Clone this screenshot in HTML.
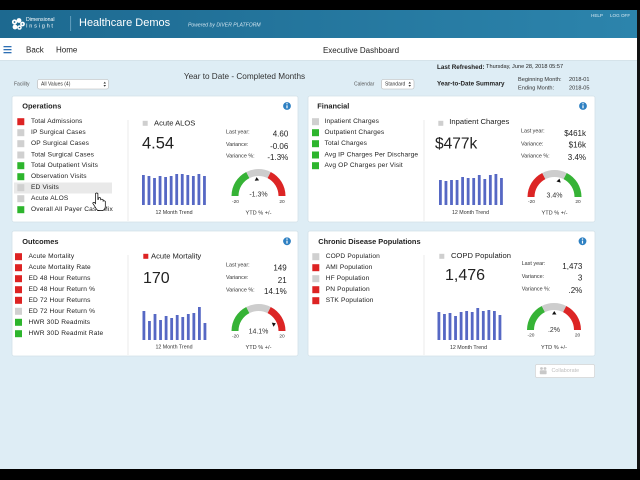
<!DOCTYPE html>
<html><head><meta charset="utf-8">
<style>
html,body{margin:0;padding:0;background:#000;}
svg{display:block;}
text{font-family:"Liberation Sans",Arial,sans-serif;}
</style></head>
<body>
<svg width="640" height="480" viewBox="0 0 640 480" xmlns="http://www.w3.org/2000/svg">
<defs>
<linearGradient id="hdr" x1="0" y1="0" x2="1" y2="0">
<stop offset="0" stop-color="#1d6990"/><stop offset="1" stop-color="#2c84ac"/>
</linearGradient>
</defs>
<!-- background -->
<rect x="0" y="0" width="640" height="480" fill="#000"/>
<rect x="0" y="10" width="637" height="459" fill="#deedf5"/>
<rect x="0" y="10" width="637" height="28" fill="url(#hdr)"/>
<rect x="0" y="38" width="637" height="22" fill="#ffffff"/>
<line x1="0" y1="60.5" x2="637" y2="60.5" stroke="#d5e3ea" stroke-width="1"/>

<!-- header -->
<g fill="#ffffff">
<circle cx="14.5" cy="22" r="2.6"/><circle cx="19" cy="20.5" r="2.4"/><circle cx="22.5" cy="24" r="2.4"/>
<circle cx="15" cy="27" r="2.4"/><circle cx="19.5" cy="27.5" r="2.3"/>
</g>
<g fill="#1d6990"><circle cx="14.5" cy="22" r="0.9"/><circle cx="19.5" cy="27.5" r="0.8"/><circle cx="22.5" cy="24" r="0.8"/></g>
<text x="26" y="20" font-size="5.2" fill="#fff" dominant-baseline="central">Dimensional</text>
<text x="26" y="26.3" font-size="5.6" fill="#fff" letter-spacing="1.75" dominant-baseline="central">Insight</text>
<line x1="70.7" y1="16" x2="70.7" y2="31" stroke="#7fb4cf" stroke-width="0.7"/>
<text x="79" y="23.2" font-size="11" fill="#fff" dominant-baseline="central">Healthcare Demos</text>
<text x="188" y="25.5" font-size="5.1" fill="#cfe3ee" font-style="italic" dominant-baseline="central">Powered by DIVER PLATFORM</text>
<text x="591" y="15.5" font-size="4.6" fill="#d6e8f2" dominant-baseline="central">HELP</text>
<text x="610" y="15.5" font-size="4.6" fill="#d6e8f2" dominant-baseline="central">LOG OFF</text>

<!-- nav -->
<g fill="#2e6fb4">
<rect x="3.5" y="46" width="8" height="1.3"/><rect x="3.5" y="49" width="8" height="1.3"/><rect x="3.5" y="52" width="8" height="1.3"/>
</g>
<text x="26" y="50" font-size="8" fill="#222" dominant-baseline="central">Back</text>
<text x="56" y="50" font-size="8" fill="#222" dominant-baseline="central">Home</text>
<text x="361" y="50.5" font-size="8" fill="#222" text-anchor="middle" dominant-baseline="central">Executive Dashboard</text>

<!-- filter row -->
<text x="244.5" y="76.5" font-size="8.2" fill="#333" text-anchor="middle" dominant-baseline="central">Year to Date - Completed Months</text>
<text x="14" y="84.7" font-size="5" fill="#555" dominant-baseline="central">Facility</text>
<rect x="37.5" y="79.5" width="71" height="9.5" rx="2" fill="#fff" stroke="#b5b5b5" stroke-width="0.6"/>
<text x="41" y="84.3" font-size="5" fill="#333" dominant-baseline="central">All Values (4)</text>
<polygon points="103.5,83.5 106,83.5 104.75,81.7" fill="#333"/><polygon points="103.5,85 106,85 104.75,86.8" fill="#333"/>
<text x="354" y="84.7" font-size="5" fill="#555" dominant-baseline="central">Calendar</text>
<rect x="381.5" y="79.5" width="32.5" height="9.5" rx="2" fill="#fff" stroke="#b5b5b5" stroke-width="0.6"/>
<text x="385" y="84.3" font-size="5" fill="#333" dominant-baseline="central">Standard</text>
<polygon points="408.5,83.5 411,83.5 409.75,81.7" fill="#333"/><polygon points="408.5,85 411,85 409.75,86.8" fill="#333"/>
<text x="437" y="66.8" font-size="6.3" fill="#222" dominant-baseline="central"><tspan font-weight="bold">Last Refreshed:</tspan><tspan font-size="5.6"> Thursday, June 28, 2018 05:57</tspan></text>
<text x="437" y="84.2" font-size="6.3" fill="#222" font-weight="bold" dominant-baseline="central">Year-to-Date Summary</text>
<text x="518" y="79.8" font-size="5.6" fill="#333" dominant-baseline="central">Beginning Month:</text>
<text x="569" y="79.8" font-size="5.6" fill="#333" dominant-baseline="central">2018-01</text>
<text x="518" y="88.6" font-size="5.6" fill="#333" dominant-baseline="central">Ending Month:</text>
<text x="569" y="88.6" font-size="5.6" fill="#333" dominant-baseline="central">2018-05</text>

<!-- panels -->
<g fill="#ffffff" stroke="#d3e1e9" stroke-width="0.8">
<rect x="12" y="96" width="286" height="126" rx="2"/>
<rect x="308" y="96" width="287" height="126" rx="2"/>
<rect x="12" y="231" width="286" height="125" rx="2"/>
<rect x="308" y="231" width="287" height="125" rx="2"/>
</g>
<g stroke="#e6e6e6" stroke-width="0.8">
<line x1="128" y1="120" x2="128" y2="221"/>
<line x1="424" y1="120" x2="424" y2="221"/>
<line x1="128" y1="255" x2="128" y2="355"/>
<line x1="424" y1="255" x2="424" y2="355"/>
</g>

<!-- titles -->
<g font-size="7.4" font-weight="bold" fill="#222">
<text x="22.3" y="106" dominant-baseline="central">Operations</text>
<text x="317.3" y="106" dominant-baseline="central">Financial</text>
<text x="22.3" y="241.3" dominant-baseline="central">Outcomes</text>
<text x="318.3" y="241.3" dominant-baseline="central">Chronic Disease Populations</text>
</g>
<!-- info icons -->
<g>
<circle cx="287" cy="106" r="3.9" fill="#2e80c2"/><circle cx="583" cy="106" r="3.9" fill="#2e80c2"/>
<circle cx="287" cy="241.3" r="3.9" fill="#2e80c2"/><circle cx="582.5" cy="241.3" r="3.9" fill="#2e80c2"/>
<g fill="#fff">
<rect x="286.4" y="105.3" width="1.2" height="3"/><circle cx="287" cy="103.8" r="0.7"/>
<rect x="582.4" y="105.3" width="1.2" height="3"/><circle cx="583" cy="103.8" r="0.7"/>
<rect x="286.4" y="240.6" width="1.2" height="3"/><circle cx="287" cy="239.1" r="0.7"/>
<rect x="581.9" y="240.6" width="1.2" height="3"/><circle cx="582.5" cy="239.1" r="0.7"/>
</g>
</g>

<!-- Operations list -->
<rect x="14" y="182.5" width="98" height="11" fill="#e9e9e9"/>
<g font-size="6.6" fill="#222" letter-spacing="0.15">
<rect x="17.3" y="118.2" width="7" height="7" fill="#dd2323"/><text x="31" y="121.7" dominant-baseline="central">Total Admissions</text>
<rect x="17.3" y="129.2" width="7" height="7" fill="#d0d0d0"/><text x="31" y="132.7" dominant-baseline="central">IP Surgical Cases</text>
<rect x="17.3" y="140.2" width="7" height="7" fill="#d0d0d0"/><text x="31" y="143.7" dominant-baseline="central">OP Surgical Cases</text>
<rect x="17.3" y="151.5" width="7" height="7" fill="#d0d0d0"/><text x="31" y="155" dominant-baseline="central">Total Surgical Cases</text>
<rect x="17.3" y="162.2" width="7" height="7" fill="#2db52d"/><text x="31" y="165.7" dominant-baseline="central">Total Outpatient Visits</text>
<rect x="17.3" y="173.2" width="7" height="7" fill="#2db52d"/><text x="31" y="176.7" dominant-baseline="central">Observation Visits</text>
<rect x="17.3" y="184.2" width="7" height="7" fill="#d0d0d0"/><text x="31" y="187.7" dominant-baseline="central">ED Visits</text>
<rect x="17.3" y="195.2" width="7" height="7" fill="#d0d0d0"/><text x="31" y="198.7" dominant-baseline="central">Acute ALOS</text>
<rect x="17.3" y="206.2" width="7" height="7" fill="#2db52d"/><text x="31" y="209.7" dominant-baseline="central">Overall All Payer Case Mix</text>
</g>
<!-- hand cursor -->
<path d="M95.5,193.5 q1.2,-1 2.4,0 v6 h0.4 v-1.4 q1.2,-1 2.4,0 v1.6 q1.2,-1 2.4,0 v1.4 q1.2,-0.8 2.2,0.3 v5 q0,3 -2.5,4 h-5 q-1.5,-1 -3,-4 l-2,-3 q0,-1.5 1.8,-0.8 l0.9,1 z" fill="#fff" stroke="#000" stroke-width="0.7"/>

<!-- Financial list -->
<g font-size="6.6" fill="#222" letter-spacing="0.15">
<rect x="312" y="118.2" width="7" height="7" fill="#d0d0d0"/><text x="324.5" y="121.7" dominant-baseline="central">Inpatient Charges</text>
<rect x="312" y="129.2" width="7" height="7" fill="#2db52d"/><text x="324.5" y="132.7" dominant-baseline="central">Outpatient Charges</text>
<rect x="312" y="140.2" width="7" height="7" fill="#2db52d"/><text x="324.5" y="143.7" dominant-baseline="central">Total Charges</text>
<rect x="312" y="151.5" width="7" height="7" fill="#2db52d"/><text x="324.5" y="155" dominant-baseline="central">Avg IP Charges Per Discharge</text>
<rect x="312" y="162.2" width="7" height="7" fill="#2db52d"/><text x="324.5" y="165.7" dominant-baseline="central">Avg OP Charges per Visit</text>
</g>

<!-- Outcomes list -->
<g font-size="6.6" fill="#222" letter-spacing="0.15">
<rect x="15" y="253.2" width="7" height="7" fill="#dd2323"/><text x="28.5" y="256.7" dominant-baseline="central">Acute Mortality</text>
<rect x="15" y="264.2" width="7" height="7" fill="#dd2323"/><text x="28.5" y="267.7" dominant-baseline="central">Acute Mortality Rate</text>
<rect x="15" y="275.2" width="7" height="7" fill="#dd2323"/><text x="28.5" y="278.7" dominant-baseline="central">ED 48 Hour Returns</text>
<rect x="15" y="286.2" width="7" height="7" fill="#dd2323"/><text x="28.5" y="289.7" dominant-baseline="central">ED 48 Hour Return %</text>
<rect x="15" y="296.8" width="7" height="7" fill="#dd2323"/><text x="28.5" y="300.3" dominant-baseline="central">ED 72 Hour Returns</text>
<rect x="15" y="307.8" width="7" height="7" fill="#d0d0d0"/><text x="28.5" y="311.3" dominant-baseline="central">ED 72 Hour Return %</text>
<rect x="15" y="318.8" width="7" height="7" fill="#2db52d"/><text x="28.5" y="322.3" dominant-baseline="central">HWR 30D Readmits</text>
<rect x="15" y="330.2" width="7" height="7" fill="#2db52d"/><text x="28.5" y="333.7" dominant-baseline="central">HWR 30D Readmit Rate</text>
</g>

<!-- Chronic list -->
<g font-size="6.6" fill="#222" letter-spacing="0.15">
<rect x="312.3" y="253.2" width="7" height="7" fill="#d0d0d0"/><text x="325.7" y="256.7" dominant-baseline="central">COPD Population</text>
<rect x="312.3" y="264.2" width="7" height="7" fill="#dd2323"/><text x="325.7" y="267.7" dominant-baseline="central">AMI Population</text>
<rect x="312.3" y="275.2" width="7" height="7" fill="#d0d0d0"/><text x="325.7" y="278.7" dominant-baseline="central">HF Population</text>
<rect x="312.3" y="286.2" width="7" height="7" fill="#dd2323"/><text x="325.7" y="289.7" dominant-baseline="central">PN Population</text>
<rect x="312.3" y="297.2" width="7" height="7" fill="#dd2323"/><text x="325.7" y="300.7" dominant-baseline="central">STK Population</text>
</g>

<!-- Mid headings & big numbers -->
<g fill="#222">
<rect x="142.7" y="120.8" width="5" height="5" fill="#cfcfcf"/>
<text x="154" y="123" font-size="7.6" dominant-baseline="central">Acute ALOS</text>
<text x="142" y="143.5" font-size="16.5" dominant-baseline="central">4.54</text>

<rect x="438.3" y="120.8" width="5" height="5" fill="#cfcfcf"/>
<text x="449.3" y="121.3" font-size="7.6" dominant-baseline="central">Inpatient Charges</text>
<text x="435" y="144" font-size="15.5" dominant-baseline="central">$477k</text>

<rect x="143.3" y="253.8" width="5" height="5" fill="#dd2323"/>
<text x="151" y="256.2" font-size="7.6" dominant-baseline="central">Acute Mortality</text>
<text x="143" y="278.7" font-size="16" dominant-baseline="central">170</text>

<rect x="439.3" y="253.8" width="5" height="5" fill="#cfcfcf"/>
<text x="451" y="255.5" font-size="7.6" dominant-baseline="central">COPD Population</text>
<text x="445" y="275.5" font-size="16" dominant-baseline="central">1,476</text>
</g>

<!-- stats -->
<g fill="#333" font-size="5.4">
<text x="226" y="132.3" dominant-baseline="central">Last year:</text>
<text x="226" y="145" dominant-baseline="central">Variance:</text>
<text x="226" y="156.7" dominant-baseline="central">Variance %:</text>
<text x="521" y="131.7" dominant-baseline="central">Last year:</text>
<text x="521" y="144.3" dominant-baseline="central">Variance:</text>
<text x="521" y="156.7" dominant-baseline="central">Variance %:</text>
<text x="226" y="265.7" dominant-baseline="central">Last year:</text>
<text x="226" y="278" dominant-baseline="central">Variance:</text>
<text x="226" y="290.3" dominant-baseline="central">Variance %:</text>
<text x="521.7" y="264" dominant-baseline="central">Last year:</text>
<text x="521.7" y="277" dominant-baseline="central">Variance:</text>
<text x="521.7" y="289.7" dominant-baseline="central">Variance %:</text>
</g>
<g fill="#222" font-size="8" text-anchor="end">
<text x="288.3" y="134" dominant-baseline="central">4.60</text>
<text x="288.3" y="146.7" dominant-baseline="central">-0.06</text>
<text x="288.3" y="157.7" dominant-baseline="central">-1.3%</text>
<text x="586" y="133.3" dominant-baseline="central">$461k</text>
<text x="586" y="145" dominant-baseline="central">$16k</text>
<text x="586" y="157.7" dominant-baseline="central">3.4%</text>
<text x="286.7" y="268" dominant-baseline="central">149</text>
<text x="286.7" y="280.3" dominant-baseline="central">21</text>
<text x="286.7" y="291.3" dominant-baseline="central">14.1%</text>
<text x="582.3" y="266.3" dominant-baseline="central">1,473</text>
<text x="582.3" y="278" dominant-baseline="central">3</text>
<text x="582.3" y="290.3" dominant-baseline="central">.2%</text>
</g>

<!-- bars -->
<g fill="#5668c4">
<!-- ops bottom 205 -->
<rect x="142" y="175" width="2.8" height="30"/><rect x="147.55" y="176" width="2.8" height="29"/><rect x="153.1" y="178" width="2.8" height="27"/><rect x="158.65" y="176" width="2.8" height="29"/><rect x="164.2" y="177" width="2.8" height="28"/><rect x="169.75" y="176" width="2.8" height="29"/><rect x="175.3" y="174" width="2.8" height="31"/><rect x="180.85" y="174" width="2.8" height="31"/><rect x="186.4" y="175" width="2.8" height="30"/><rect x="191.95" y="176" width="2.8" height="29"/><rect x="197.5" y="174" width="2.8" height="31"/><rect x="203.05" y="176" width="2.8" height="29"/>
<!-- fin -->
<rect x="439" y="180" width="2.8" height="25"/><rect x="444.55" y="181" width="2.8" height="24"/><rect x="450.1" y="180" width="2.8" height="25"/><rect x="455.65" y="180" width="2.8" height="25"/><rect x="461.2" y="177" width="2.8" height="28"/><rect x="466.75" y="178" width="2.8" height="27"/><rect x="472.3" y="178" width="2.8" height="27"/><rect x="477.85" y="175" width="2.8" height="30"/><rect x="483.4" y="179" width="2.8" height="26"/><rect x="488.95" y="175" width="2.8" height="30"/><rect x="494.5" y="174" width="2.8" height="31"/><rect x="500.05" y="178" width="2.8" height="27"/>
<!-- outcomes bottom 340 -->
<rect x="142.5" y="311" width="2.8" height="29"/><rect x="148.05" y="321" width="2.8" height="19"/><rect x="153.6" y="314" width="2.8" height="26"/><rect x="159.15" y="320" width="2.8" height="20"/><rect x="164.7" y="316" width="2.8" height="24"/><rect x="170.25" y="318" width="2.8" height="22"/><rect x="175.8" y="315" width="2.8" height="25"/><rect x="181.35" y="317" width="2.8" height="23"/><rect x="186.9" y="314" width="2.8" height="26"/><rect x="192.45" y="313" width="2.8" height="27"/><rect x="198" y="307" width="2.8" height="33"/><rect x="203.55" y="323" width="2.8" height="17"/>
<!-- chronic -->
<rect x="437.5" y="312" width="2.8" height="28"/><rect x="443.05" y="314" width="2.8" height="26"/><rect x="448.6" y="313" width="2.8" height="27"/><rect x="454.15" y="316" width="2.8" height="24"/><rect x="459.7" y="312" width="2.8" height="28"/><rect x="465.25" y="311" width="2.8" height="29"/><rect x="470.8" y="312" width="2.8" height="28"/><rect x="476.35" y="308" width="2.8" height="32"/><rect x="481.9" y="311" width="2.8" height="29"/><rect x="487.45" y="310" width="2.8" height="30"/><rect x="493" y="311" width="2.8" height="29"/><rect x="498.55" y="315" width="2.8" height="25"/>
</g>
<g fill="#333" font-size="5.3" text-anchor="middle">
<text x="174" y="213" dominant-baseline="central">12 Month Trend</text>
<text x="470.5" y="213" dominant-baseline="central">12 Month Trend</text>
<text x="174" y="347.3" dominant-baseline="central">12 Month Trend</text>
<text x="468.5" y="348" dominant-baseline="central">12 Month Trend</text>
</g>

<!-- gauges -->
<g fill="none" stroke-width="7">
<!-- ops -->
<path d="M235,196 A23.5,23.5 0 0 1 247.83,175.06" stroke="#36b336"/>
<path d="M247.83,175.06 A23.5,23.5 0 0 1 269.17,175.06" stroke="#cdcdcd"/>
<path d="M269.17,175.06 A23.5,23.5 0 0 1 282,196" stroke="#dc2525"/>
<!-- fin -->
<path d="M531,197 A23.5,23.5 0 0 1 543.83,176.06" stroke="#dc2525"/>
<path d="M543.83,176.06 A23.5,23.5 0 0 1 565.17,176.06" stroke="#cdcdcd"/>
<path d="M565.17,176.06 A23.5,23.5 0 0 1 578,197" stroke="#36b336"/>
<!-- outcomes -->
<path d="M235,331 A23.5,23.5 0 0 1 247.83,310.06" stroke="#36b336"/>
<path d="M247.83,310.06 A23.5,23.5 0 0 1 269.17,310.06" stroke="#cdcdcd"/>
<path d="M269.17,310.06 A23.5,23.5 0 0 1 282,331" stroke="#dc2525"/>
<!-- chronic -->
<path d="M530.5,330 A23.5,23.5 0 0 1 543.33,309.06" stroke="#36b336"/>
<path d="M543.33,309.06 A23.5,23.5 0 0 1 564.67,309.06" stroke="#cdcdcd"/>
<path d="M564.67,309.06 A23.5,23.5 0 0 1 577.5,330" stroke="#dc2525"/>
</g>
<g fill="#111">
<polygon points="256.3,180.5 260.7,180.5 258.5,177" transform="rotate(-5.85 258.5 196)"/>
<polygon points="552.3,181.5 556.7,181.5 554.5,178" transform="rotate(15.3 554.5 197)"/>
<polygon points="256.3,315.5 260.7,315.5 258.5,312" transform="rotate(66 258.5 331)"/>
<polygon points="551.8,314.5 556.2,314.5 554,311" transform="rotate(0.9 554 330)"/>
</g>
<g fill="#333" text-anchor="middle">
<text x="258.5" y="195" font-size="7" dominant-baseline="central">-1.3%</text>
<text x="235.5" y="202.3" font-size="4.8" dominant-baseline="central">-20</text>
<text x="282" y="202.3" font-size="4.8" dominant-baseline="central">20</text>
<text x="258.5" y="213.3" font-size="5.6" dominant-baseline="central">YTD % +/-</text>

<text x="554.5" y="196" font-size="7" dominant-baseline="central">3.4%</text>
<text x="531.5" y="202.5" font-size="4.8" dominant-baseline="central">-20</text>
<text x="578" y="202.5" font-size="4.8" dominant-baseline="central">20</text>
<text x="554.5" y="213.3" font-size="5.6" dominant-baseline="central">YTD % +/-</text>

<text x="258.5" y="332" font-size="7" dominant-baseline="central">14.1%</text>
<text x="235.5" y="337" font-size="4.8" dominant-baseline="central">-20</text>
<text x="282" y="337" font-size="4.8" dominant-baseline="central">20</text>
<text x="258.5" y="348" font-size="5.6" dominant-baseline="central">YTD % +/-</text>

<text x="554" y="330.5" font-size="7" dominant-baseline="central">.2%</text>
<text x="531" y="336" font-size="4.8" dominant-baseline="central">-20</text>
<text x="577.5" y="336" font-size="4.8" dominant-baseline="central">20</text>
<text x="554" y="348" font-size="5.6" dominant-baseline="central">YTD % +/-</text>
</g>

<!-- collaborate button -->
<rect x="535.5" y="364.5" width="59" height="13" rx="1.5" fill="#ffffff" stroke="#d4d4d4" stroke-width="0.7"/>
<g fill="#c8c8c8">
<circle cx="541.5" cy="368.5" r="1.4"/><circle cx="545" cy="368.5" r="1.4"/>
<rect x="539.8" y="370.3" width="6.8" height="4" rx="0.8"/>
</g>
<text x="551.5" y="371.2" font-size="5.4" fill="#bdbdbd" dominant-baseline="central">Collaborate</text>

<!-- right edge dark strip -->
<rect x="637" y="10" width="3" height="460" fill="#111"/>
<rect x="0" y="469" width="640" height="11" fill="#000"/>
</svg>
</body></html>
